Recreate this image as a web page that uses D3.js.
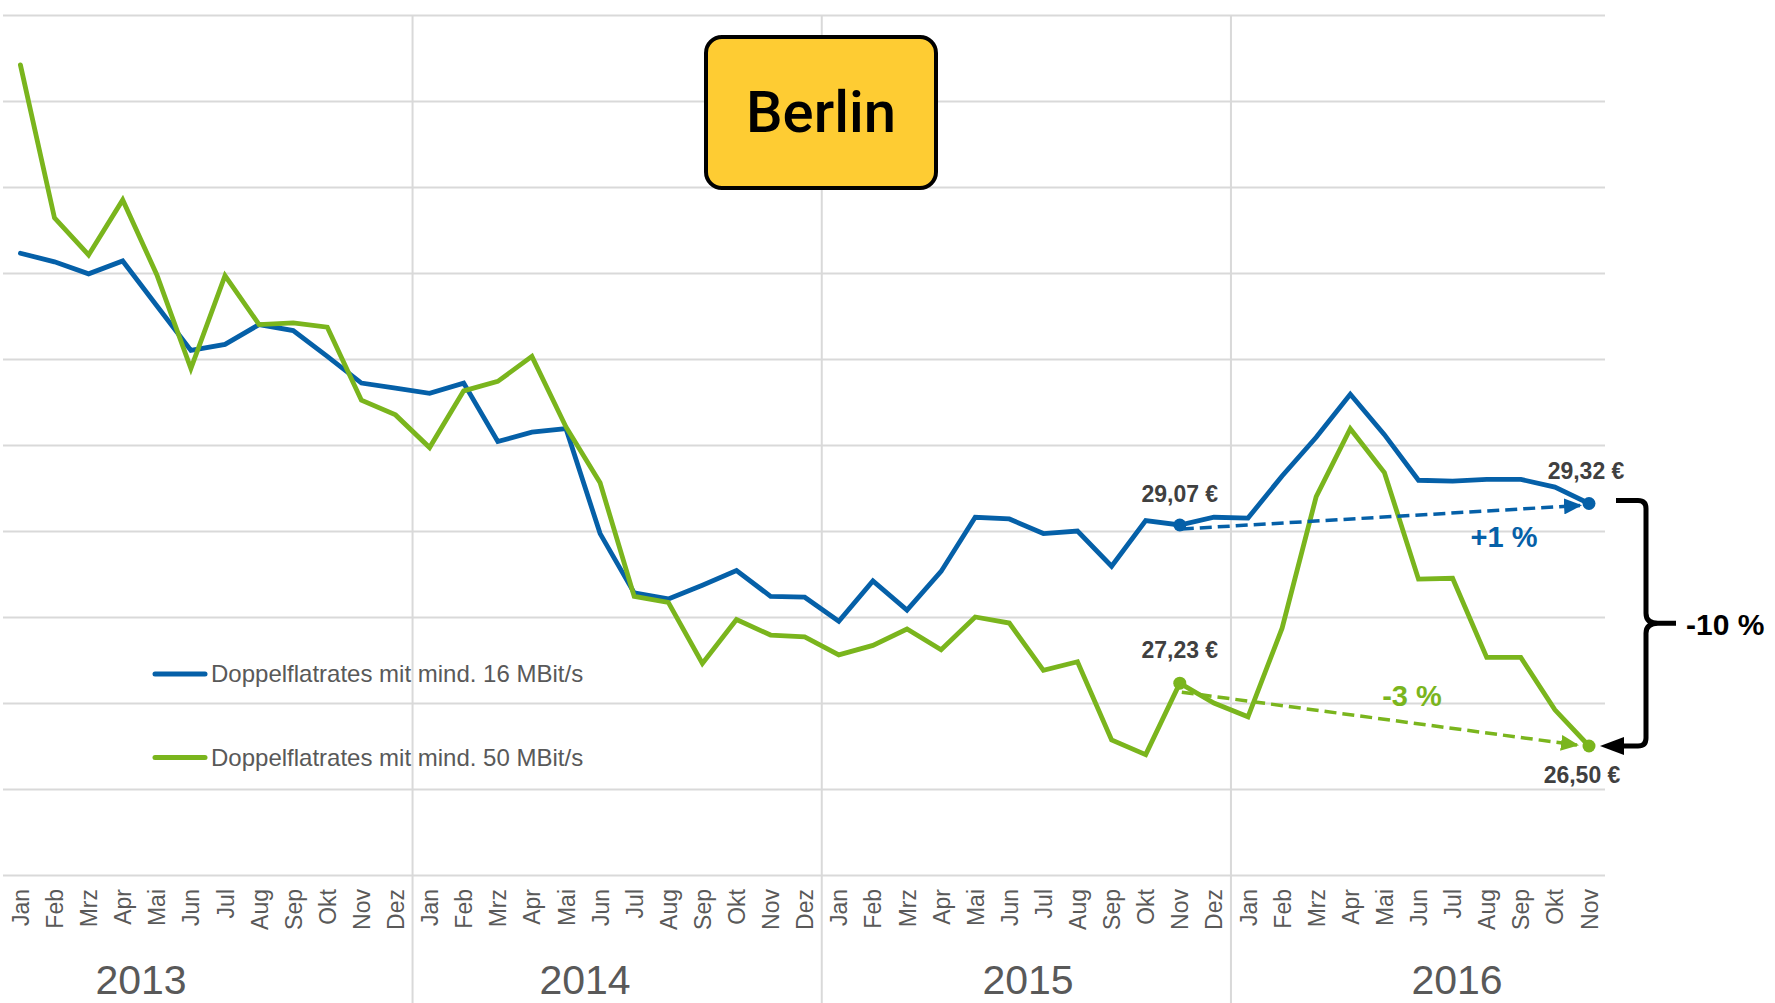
<!DOCTYPE html>
<html>
<head>
<meta charset="utf-8">
<script src="https://cdn.jsdelivr.net/npm/d3@7"></script>
<style>
  body { margin: 0; background: #fff; }
  svg { display: block; font-family: "Liberation Sans", Arial, sans-serif; }
</style>
</head>
<body>
<div id="chart"></div>
<script>
// Data
var title = "Berlin";
var monthNames = ["Jan", "Feb", "Mrz", "Apr", "Mai", "Jun", "Jul", "Aug", "Sep", "Okt", "Nov", "Dez"];
var years = ["2013", "2014", "2015", "2016"];
var seriesNames = ["Doppelflatrates mit mind. 16 MBit/s", "Doppelflatrates mit mind. 50 MBit/s"];

// monthly price in EUR, Jan 2013 .. Nov 2016
var flat16 = [32.23, 32.13, 31.99, 32.14, 31.62, 31.10, 31.17, 31.40, 31.33, 31.03, 30.72, 30.66,
              30.60, 30.72, 30.04, 30.15, 30.19, 28.97, 28.28, 28.21, 28.37, 28.54, 28.24, 28.23,
              27.95, 28.42, 28.08, 28.53, 29.16, 29.14, 28.97, 29.00, 28.59, 29.12, 29.07, 29.16,
              29.15, 29.64, 30.09, 30.59, 30.12, 29.59, 29.58, 29.60, 29.60, 29.51, 29.32];
var flat50 = [34.42, 32.64, 32.21, 32.85, 31.98, 30.89, 31.97, 31.40, 31.42, 31.37, 30.52, 30.35,
              29.97, 30.63, 30.74, 31.03, 30.21, 29.56, 28.24, 28.17, 27.46, 27.97, 27.79, 27.77,
              27.56, 27.67, 27.86, 27.62, 28.00, 27.93, 27.38, 27.48, 26.57, 26.40, 27.23, 27.00,
              26.84, 27.87, 29.40, 30.19, 29.68, 28.44, 28.45, 27.53, 27.53, 26.92, 26.50];

// compared months: Nov 2015 and Nov 2016
var compareFrom = 34, compareTo = 46;

// Layout
var width = 1775, height = 1003;
var blue = "#0560a8", green = "#7ab51d", grid = "#d9d9d9", labelGray = "#595959", darkGray = "#404040";
var yearLabelX = [141, 585, 1028, 1457];

var monthLabels = [];
years.forEach(function(y) { monthNames.forEach(function(m) { monthLabels.push(m); }); });
monthLabels = monthLabels.slice(0, flat16.length);

var x = d3.scaleLinear().domain([0, flat16.length - 1]).range([20.4, 1589]);
var y = d3.scaleLinear().domain([25, 35]).range([875, 15]);

var svg = d3.select("#chart").append("svg")
    .attr("width", width)
    .attr("height", height);

// horizontal gridlines
var yGrid = svg.append("g")
    .attr("transform", "translate(3,0)")
    .call(d3.axisRight(y).tickValues(d3.range(25, 36)).tickSize(1602).tickFormat(""));
yGrid.select(".domain").remove();
yGrid.selectAll("line").attr("stroke", grid).attr("stroke-width", 2);

// year separators
svg.append("g").selectAll("line")
    .data([12, 24, 36])
    .enter().append("line")
    .attr("x1", function(i) { return x(i - 0.5); })
    .attr("x2", function(i) { return x(i - 0.5); })
    .attr("y1", 15)
    .attr("y2", height)
    .attr("stroke", grid)
    .attr("stroke-width", 2);

// month axis
var xAxis = svg.append("g")
    .attr("transform", "translate(0,875)")
    .call(d3.axisBottom(x).tickValues(d3.range(flat16.length)).tickSize(0)
          .tickFormat(function(i) { return monthLabels[i]; }));
xAxis.select(".domain").remove();
xAxis.selectAll("text")
    .attr("transform", "rotate(-90)")
    .attr("x", -14)
    .attr("y", 0)
    .attr("dy", "0.35em")
    .style("text-anchor", "end")
    .style("font-family", "Liberation Sans, Arial, sans-serif")
    .style("font-size", "23px")
    .attr("fill", labelGray);

// year labels
svg.append("g").selectAll("text")
    .data(years)
    .enter().append("text")
    .attr("x", function(d, i) { return yearLabelX[i]; })
    .attr("y", 994)
    .attr("text-anchor", "middle")
    .style("font-size", "41px")
    .attr("fill", labelGray)
    .text(function(d) { return d; });

// legend
var legend = svg.append("g").selectAll("g")
    .data(seriesNames)
    .enter().append("g")
    .attr("transform", function(d, i) { return "translate(0," + (674 + i * 83.5) + ")"; });
legend.append("line")
    .attr("x1", 155).attr("x2", 205)
    .attr("stroke", function(d, i) { return i ? green : blue; })
    .attr("stroke-width", 5)
    .attr("stroke-linecap", "round");
legend.append("text")
    .attr("x", 211)
    .attr("y", 8)
    .style("font-size", "24px")
    .attr("fill", labelGray)
    .text(function(d) { return d; });

// Berlin sign
var sign = svg.append("g");
sign.append("rect")
    .attr("x", 706).attr("y", 37)
    .attr("width", 230).attr("height", 151)
    .attr("rx", 16)
    .attr("fill", "#fecc33")
    .attr("stroke", "#000")
    .attr("stroke-width", 4);
sign.append("text")
    .attr("x", 821).attr("y", 132)
    .attr("text-anchor", "middle")
    .style("font-family", "Roboto, 'DejaVu Sans', sans-serif")
    .style("font-weight", 500)
    .style("font-size", "58px")
    .attr("fill", "#000")
    .text(title);

// lines
var line = d3.line()
    .x(function(d, i) { return x(i); })
    .y(function(d) { return y(d); });

[[flat16, blue], [flat50, green]].forEach(function(s) {
    svg.append("path")
        .datum(s[0])
        .attr("d", line)
        .attr("fill", "none")
        .attr("stroke", s[1])
        .attr("stroke-width", 4.8)
        .attr("stroke-linejoin", "miter")
        .attr("stroke-linecap", "round");
});

// arrow markers
var defs = svg.append("defs");
[["arrowBlue", blue], ["arrowGreen", green]].forEach(function(m) {
    defs.append("marker")
        .attr("id", m[0])
        .attr("markerUnits", "userSpaceOnUse")
        .attr("viewBox", "0 0 18 16")
        .attr("refX", 16).attr("refY", 8)
        .attr("markerWidth", 18).attr("markerHeight", 16)
        .attr("orient", "auto")
        .append("path")
        .attr("d", "M0,0L18,8L0,16Z")
        .attr("fill", m[1]);
});

var fmtEuro = function(v) { return d3.format(".2f")(v).replace(".", ",") + " €"; };
var fmtPct = function(a, b) {
    var p = Math.round((b / a - 1) * 100);
    return (p > 0 ? "+" : "") + p + " %";
};

// comparison arrows
function arrow(series, color, marker, dy0, dy1, dx1) {
    svg.append("line")
        .attr("x1", x(compareFrom) + 2)
        .attr("y1", y(series[compareFrom]) + dy0)
        .attr("x2", x(compareTo) - dx1)
        .attr("y2", y(series[compareTo]) + dy1)
        .attr("stroke", color)
        .attr("stroke-width", 3.5)
        .attr("stroke-dasharray", "12,6")
        .attr("marker-end", "url(#" + marker + ")");
}
arrow(flat16, blue, "arrowBlue", 4, 2, 9);
arrow(flat50, green, "arrowGreen", 9, -1, 12);

// highlighted points
[[flat16, blue], [flat50, green]].forEach(function(s) {
    svg.append("g").selectAll("circle")
        .data([compareFrom, compareTo])
        .enter().append("circle")
        .attr("cx", function(i) { return x(i); })
        .attr("cy", function(i) { return y(s[0][i]); })
        .attr("r", 6.5)
        .attr("fill", s[1]);
});

// value labels
function valueLabel(tx, ty, text) {
    svg.append("text")
        .attr("x", tx).attr("y", ty)
        .attr("text-anchor", "middle")
        .style("font-size", "23px")
        .style("font-weight", "bold")
        .attr("fill", darkGray)
        .text(text);
}
valueLabel(x(compareFrom), y(flat16[compareFrom]) - 23, fmtEuro(flat16[compareFrom]));
valueLabel(x(compareFrom), y(flat50[compareFrom]) - 25, fmtEuro(flat50[compareFrom]));
valueLabel(x(compareTo) - 3, y(flat16[compareTo]) - 24, fmtEuro(flat16[compareTo]));
valueLabel(x(compareTo) - 7, y(flat50[compareTo]) + 37, fmtEuro(flat50[compareTo]));

// percent labels
svg.append("text")
    .attr("x", 1504).attr("y", 547)
    .attr("text-anchor", "middle")
    .style("font-size", "29px").style("font-weight", "bold")
    .attr("fill", blue)
    .text(fmtPct(flat16[compareFrom], flat16[compareTo]));
svg.append("text")
    .attr("x", 1412).attr("y", 706)
    .attr("text-anchor", "middle")
    .style("font-size", "29px").style("font-weight", "bold")
    .attr("fill", green)
    .text(fmtPct(flat50[compareFrom], flat50[compareTo]));

// brace comparing 16 vs 50 MBit/s in Nov 2016
var yTop = y(flat16[compareTo]) - 3, yBot = y(flat50[compareTo]), yMid = (yTop + yBot) / 2;
svg.append("path")
    .attr("d", "M1616," + yTop + "H1638Q1646," + yTop + " 1646," + (yTop + 8) +
               "V" + (yMid - 10) + "Q1646," + yMid + " 1658," + yMid + "H1676" +
               "M1658," + yMid + "Q1646," + yMid + " 1646," + (yMid + 10) +
               "V" + (yBot - 8) + "Q1646," + yBot + " 1638," + yBot + "H1620")
    .attr("fill", "none")
    .attr("stroke", "#000")
    .attr("stroke-width", 5);
svg.append("path")
    .attr("d", "M1600," + yBot + "L1624," + (yBot - 9) + "L1624," + (yBot + 9) + "Z")
    .attr("fill", "#000");
svg.append("text")
    .attr("x", 1686).attr("y", yMid + 12)
    .style("font-size", "30px").style("font-weight", "bold")
    .attr("fill", "#000")
    .text(fmtPct(flat16[compareTo], flat50[compareTo]));
</script>
</body>
</html>
